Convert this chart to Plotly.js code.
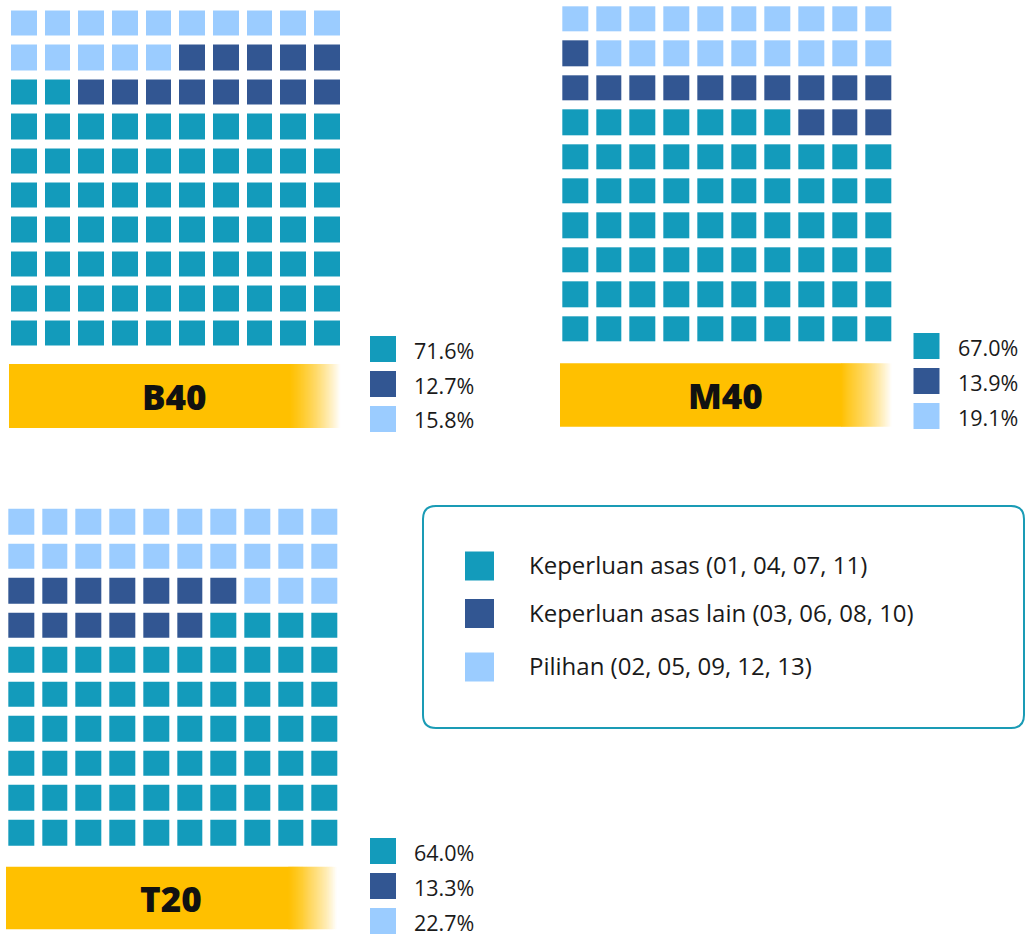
<!DOCTYPE html>
<html><head><meta charset="utf-8">
<script src="https://cdn.plot.ly/plotly-3.0.1.min.js"></script>
<style>html,body{margin:0;padding:0;background:#fff;}#chart{width:1026px;height:936px;}</style>
</head><body><div id="chart"></div>
<script>
// ---- data ----
const categories = ['Keperluan asas (01, 04, 07, 11)', 'Keperluan asas lain (03, 06, 08, 10)', 'Pilihan (02, 05, 09, 12, 13)'];
const groups = ['B40', 'M40', 'T20'];
const pctB40 = [71.6, 12.7, 15.8];
const pctM40 = [67.0, 13.9, 19.1];
const pctT20 = [64.0, 13.3, 22.7];
// waffle cells, top row first: 0 = Keperluan asas, 1 = Keperluan asas lain, 2 = Pilihan
const gridB40 = [
  [2,2,2,2,2,2,2,2,2,2],
  [2,2,2,2,2,1,1,1,1,1],
  [0,0,1,1,1,1,1,1,1,1],
  [0,0,0,0,0,0,0,0,0,0],
  [0,0,0,0,0,0,0,0,0,0],
  [0,0,0,0,0,0,0,0,0,0],
  [0,0,0,0,0,0,0,0,0,0],
  [0,0,0,0,0,0,0,0,0,0],
  [0,0,0,0,0,0,0,0,0,0],
  [0,0,0,0,0,0,0,0,0,0]
];
const gridM40 = [
  [2,2,2,2,2,2,2,2,2,2],
  [1,2,2,2,2,2,2,2,2,2],
  [1,1,1,1,1,1,1,1,1,1],
  [0,0,0,0,0,0,0,1,1,1],
  [0,0,0,0,0,0,0,0,0,0],
  [0,0,0,0,0,0,0,0,0,0],
  [0,0,0,0,0,0,0,0,0,0],
  [0,0,0,0,0,0,0,0,0,0],
  [0,0,0,0,0,0,0,0,0,0],
  [0,0,0,0,0,0,0,0,0,0]
];
const gridT20 = [
  [2,2,2,2,2,2,2,2,2,2],
  [2,2,2,2,2,2,2,2,2,2],
  [1,1,1,1,1,1,1,2,2,2],
  [1,1,1,1,1,1,0,0,0,0],
  [0,0,0,0,0,0,0,0,0,0],
  [0,0,0,0,0,0,0,0,0,0],
  [0,0,0,0,0,0,0,0,0,0],
  [0,0,0,0,0,0,0,0,0,0],
  [0,0,0,0,0,0,0,0,0,0],
  [0,0,0,0,0,0,0,0,0,0]
];

// ---- styling / layout ----
const colors = ['#139bbb', '#325692', '#9bccff'];
const yellow = '255,192,0';
const W = 1026, H = 936;
const fx = x => x / W;
const fy = y => 1 - y / H;
const FONT = 'Open Sans, Liberation Sans, sans-serif';

const panels = [
  {name: groups[0], grid: gridB40, pct: pctB40, gx: [7, 343.7], gy: [6.5, 350.5], bar: [9, 340, 364, 428], fade: 290, key: [370, 336]},
  {name: groups[1], grid: gridM40, pct: pctM40, gx: [558.3, 895.3], gy: [2.3, 346.3], bar: [560, 891.7, 363.3, 426.7], fade: 841, key: [913.5, 333]},
  {name: groups[2], grid: gridT20, pct: pctT20, gx: [4.3, 341.3], gy: [504.7, 850.3], bar: [6, 336.7, 866.7, 929.3], fade: 288, key: [370, 838]}
];

const colorscale = [[0, colors[0]], [0.25, colors[0]], [0.25, colors[1]], [0.75, colors[1]], [0.75, colors[2]], [1, colors[2]]];

const traces = [];
const layout = {
  width: W, height: H,
  margin: {l: 0, r: 0, t: 0, b: 0},
  paper_bgcolor: '#fff', plot_bgcolor: 'rgba(0,0,0,0)',
  showlegend: false,
  shapes: [], annotations: []
};

panels.forEach((p, k) => {
  const sfx = k === 0 ? '' : String(k + 1);
  traces.push({
    type: 'heatmap',
    z: p.grid,
    xaxis: 'x' + sfx, yaxis: 'y' + sfx,
    zmin: 0, zmax: 2,
    colorscale: colorscale,
    showscale: false,
    xgap: 8, ygap: 9,
    hoverinfo: 'skip'
  });
  layout['xaxis' + sfx] = {domain: [fx(p.gx[0]), fx(p.gx[1])], range: [-0.5, 9.5], visible: false, fixedrange: true, anchor: 'y' + sfx};
  layout['yaxis' + sfx] = {domain: [fy(p.gy[1]), fy(p.gy[0])], range: [9.5, -0.5], visible: false, fixedrange: true, anchor: 'x' + sfx};

  // yellow label bar with fading right end
  const [x0, x1, y0, y1] = p.bar;
  layout.shapes.push({type: 'rect', xref: 'paper', yref: 'paper', x0: fx(x0), x1: fx(p.fade + 0.5), y0: fy(y1), y1: fy(y0), fillcolor: 'rgb(' + yellow + ')', line: {width: 0}, layer: 'below'});
  const N = 50, w = (x1 - p.fade) / N;
  for (let i = 0; i < N; i++) {
    const a = 1 - (i + 0.5) / N;
    layout.shapes.push({type: 'rect', xref: 'paper', yref: 'paper', x0: fx(p.fade + i * w), x1: fx(p.fade + (i + 1) * w + 0.4), y0: fy(y1), y1: fy(y0), fillcolor: 'rgba(' + yellow + ',' + a.toFixed(3) + ')', line: {width: 0}, layer: 'below'});
  }
  layout.annotations.push({xref: 'paper', yref: 'paper', x: fx((x0 + x1) / 2), y: fy((y0 + y1) / 2 + 0.5), text: p.name, showarrow: false, xanchor: 'center', yanchor: 'middle', font: {family: FONT, size: 35, color: '#111', weight: 800}});

  // percentage key
  p.pct.forEach((v, i) => {
    const ky = p.key[1] + i * 35;
    layout.shapes.push({type: 'rect', xref: 'paper', yref: 'paper', x0: fx(p.key[0]), x1: fx(p.key[0] + 26), y0: fy(ky + 26), y1: fy(ky), fillcolor: colors[i], line: {width: 0}});
    layout.annotations.push({xref: 'paper', yref: 'paper', x: fx(p.key[0] + 42), y: fy(ky + 14), text: v.toFixed(1) + '%', showarrow: false, xanchor: 'left', yanchor: 'middle', font: {family: FONT, size: 21.5, color: '#1a1a1a'}});
  });
});

// legend box
(function () {
  const bx0 = 423, bx1 = 1024, by0 = 506, by1 = 728, r = 13;
  const X = fx, Y = fy;
  const path = 'M ' + X(bx0 + r) + ',' + Y(by0) +
    ' L ' + X(bx1 - r) + ',' + Y(by0) +
    ' Q ' + X(bx1) + ',' + Y(by0) + ' ' + X(bx1) + ',' + Y(by0 + r) +
    ' L ' + X(bx1) + ',' + Y(by1 - r) +
    ' Q ' + X(bx1) + ',' + Y(by1) + ' ' + X(bx1 - r) + ',' + Y(by1) +
    ' L ' + X(bx0 + r) + ',' + Y(by1) +
    ' Q ' + X(bx0) + ',' + Y(by1) + ' ' + X(bx0) + ',' + Y(by1 - r) +
    ' L ' + X(bx0) + ',' + Y(by0 + r) +
    ' Q ' + X(bx0) + ',' + Y(by0) + ' ' + X(bx0 + r) + ',' + Y(by0) + ' Z';
  layout.shapes.push({type: 'path', xref: 'paper', yref: 'paper', path: path, line: {color: '#1a9bb5', width: 2}, fillcolor: 'rgba(0,0,0,0)'});
  const itemY = [551.5, 599, 652.5];
  categories.forEach((c, i) => {
    layout.shapes.push({type: 'rect', xref: 'paper', yref: 'paper', x0: fx(465), x1: fx(494), y0: fy(itemY[i] + 29), y1: fy(itemY[i]), fillcolor: colors[i], line: {width: 0}});
    layout.annotations.push({xref: 'paper', yref: 'paper', x: fx(527), y: fy(itemY[i] + 13), text: c, showarrow: false, xanchor: 'left', yanchor: 'middle', font: {family: FONT, size: 24, color: '#1a1a1a'}});
  });
})();

Plotly.newPlot('chart', traces, layout, {displayModeBar: false, staticPlot: true});
</script>
</body></html>
